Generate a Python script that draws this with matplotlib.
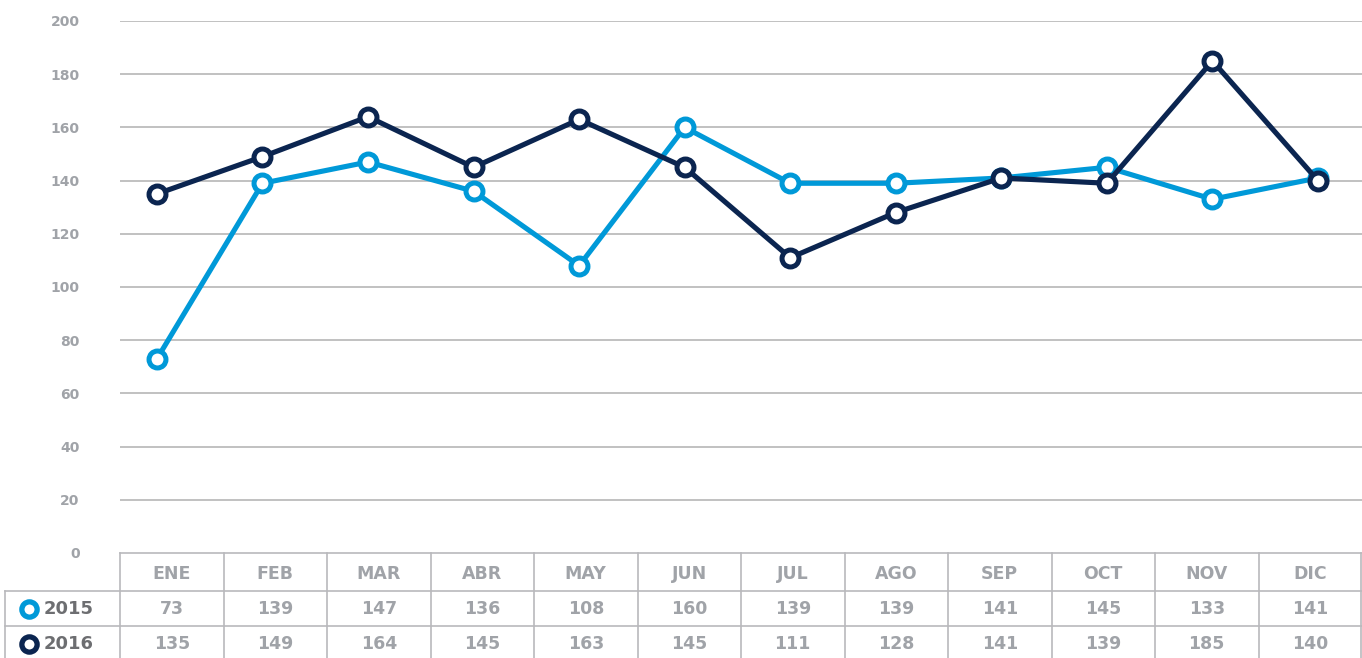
import matplotlib.pyplot as plt
import numpy as np

months = ["ENE", "FEB", "MAR", "ABR", "MAY", "JUN", "JUL", "AGO", "SEP", "OCT", "NOV", "DIC"]
v2015 = [73, 139, 147, 136, 108, 160, 139, 139, 141, 145, 133, 141]
v2016 = [135, 149, 164, 145, 163, 145, 111, 128, 141, 139, 185, 140]
years = ["2015", "2016"]

c15 = "#0099d8"
c16 = "#0b2550"
grid_c = "#b0b0b0"
txt_c = "#a0a3a8"

W, H = 1362, 658
fig = plt.figure(figsize=(W / 100, H / 100), dpi=100)
plt.rcParams["font.family"] = ["DejaVu Sans"]

# main chart
ax = fig.add_axes([120 / W, (H - 553) / H, (W - 120) / W, 532 / H])
x = np.arange(len(months))
ax.set_xlim(-0.35, 11.417)
ax.set_ylim(0, 200)
for y in range(20, 201, 20):
    ax.axhline(y, color=grid_c, lw=1.1, zorder=0)
for vals, col in [(v2015, c15), (v2016, c16)]:
    ax.plot(x, vals, color=col, lw=3.7, marker="o", ms=12.2, mfc="white",
            mec=col, mew=3.6, zorder=3, clip_on=False)
ax.set_yticks(range(0, 201, 20))
ax.tick_params(axis="y", length=0, pad=29, labelsize=10, labelcolor=txt_c)
for lab in ax.get_yticklabels():
    lab.set_fontweight("bold")
ax.set_xticks([])
for s in ax.spines.values():
    s.set_visible(False)

# data table
tab = fig.add_axes([0, 0, 1, 1])
tab.set_xlim(0, W)
tab.set_ylim(H, 0)
tab.axis("off")
col_w = (W - 120) / 12
lc = "#b9b9bc"
tab.plot([120, W], [553, 553], color=lc, lw=1.2)
tab.plot([5, W], [591, 591], color=lc, lw=1.2)
tab.plot([5, W], [626, 626], color=lc, lw=1.2)
tab.plot([5, 5], [591, H], color=lc, lw=1.2)
for k in range(13):
    xx = min(120 + k * col_w, W - 1)
    tab.plot([xx, xx], [553, H], color=lc, lw=1.2)
for i, m in enumerate(months):
    cx = 120 + (i + 0.5) * col_w
    tab.text(cx, 574, m, ha="center", va="center", fontsize=12.5,
             fontweight="bold", color=txt_c)
    tab.text(cx, 609, str(v2015[i]), ha="center", va="center", fontsize=12.5,
             fontweight="bold", color=txt_c)
    tab.text(cx, 644, str(v2016[i]), ha="center", va="center", fontsize=12.5,
             fontweight="bold", color=txt_c)
for yy, yr, col in [(609, years[0], c15), (644, years[1], c16)]:
    tab.plot([29], [yy], marker="o", ms=11, mfc="white", mec=col, mew=3.8)
    tab.text(44, yy, yr, ha="left", va="center", fontsize=13,
             fontweight="bold", color="#6d6e71")

fig.savefig("out.png", dpi=100)
